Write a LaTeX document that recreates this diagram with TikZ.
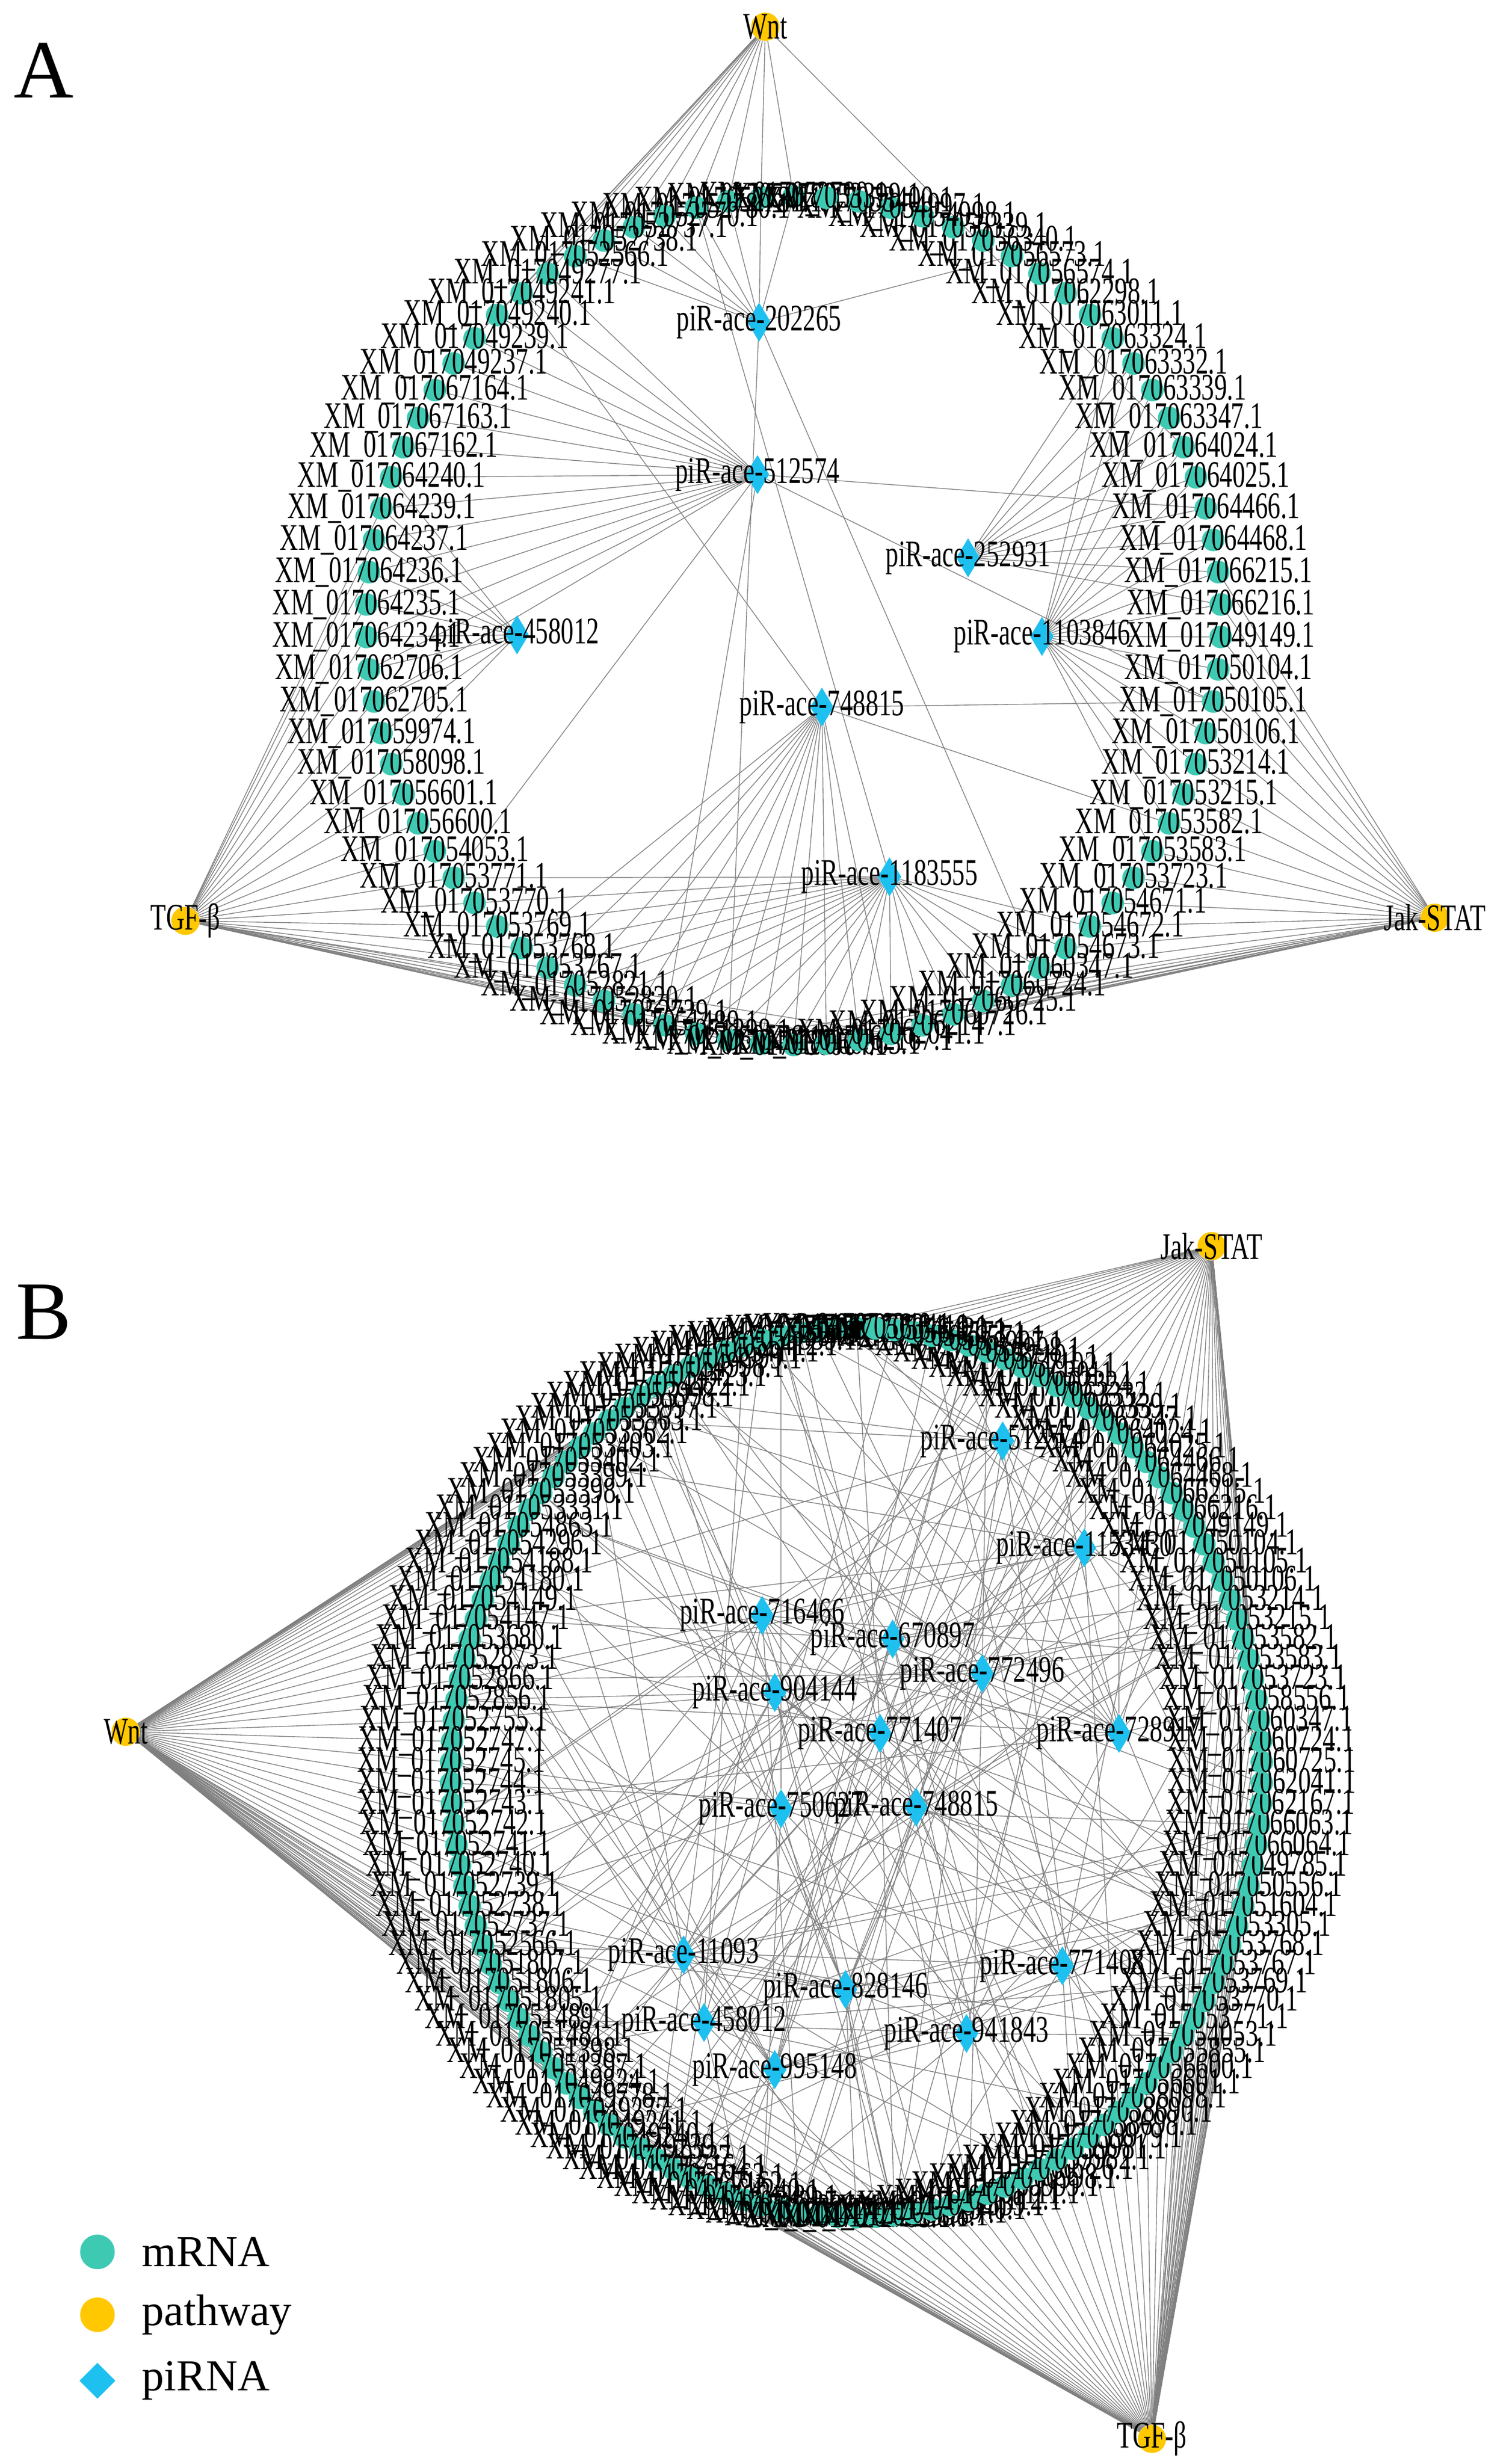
\documentclass[tikz,border=0pt]{standalone}
\usepackage{fontspec}
\setmainfont{Liberation Serif}
\newfontfamily\condfont[FakeStretch=0.68]{Liberation Serif}
\usetikzlibrary{shapes.geometric,backgrounds}
\definecolor{mrnacol}{HTML}{3EC9B2}
\definecolor{pathcol}{HTML}{FFC800}
\definecolor{pircol}{HTML}{1EC0F0}
\tikzset{
  mrna/.style={circle,fill=mrnacol,minimum size=0.72cm,inner sep=0pt},
  path node/.style={circle,fill=pathcol,minimum size=0.9cm,inner sep=0pt},
  pirna/.style={diamond,fill=pircol,minimum width=0.75cm,minimum height=1.25cm,inner sep=0pt},
  lbl/.style={font=\condfont\fontsize{34}{34}\selectfont,inner sep=0pt},
  edge/.style={draw=black!50,line width=0.7pt},
  legend text/.style={font=\fontsize{40}{40}\selectfont,anchor=west}
}
\begin{document}
\begin{tikzpicture}[x=0.05cm,y=-0.05cm]
  \useasboundingbox (0,0) rectangle (960,1568);

  % panel A: mRNA ring
  \foreach \n [count=\i] in {52790,52789,52781,52780,52770,52737,52738,52566,49277,49241,
      49240,49239,49237,67164,67163,67162,64240,64239,64237,64236,64235,64234,62706,62705,
      59974,58098,56601,56600,54053,53771,53770,53769,53768,53767,52821,52820,52729,51489,
      51398,50556,49785,66064,66063,62167,62041,62147,60726,60725,60724,60347,54673,54672,
      54671,53723,53583,53582,53215,53214,50106,50105,50104,49149,66216,66215,64468,64466,
      64025,64024,63347,63339,63332,63324,63011,62298,56574,56573,56340,56339,54998,54997,
      53400,53399}{
    \pgfmathsetmacro\ang{90+(\i-1)*(360/82)}
    \node[mrna,label={[lbl]center:XM\_0170\n.1}] (a\i) at ({505+272*cos(\ang)},{395-270*sin(\ang)}) {};
  }

  % panel A: pathways and piRNAs
  \node[path node,label={[lbl]center:Wnt}] (wa) at (487,17) {};
  \node[path node,label={[lbl]center:TGF-β}] (ta) at (118,586) {};
  \node[path node,label={[lbl]center:Jak-STAT}] (ja) at (913,584) {};
  \node[pirna,label={[lbl]center:piR-ace-202265}] (pa1) at (483,205) {};
  \node[pirna,label={[lbl]center:piR-ace-512574}] (pa2) at (482,302) {};
  \node[pirna,label={[lbl]center:piR-ace-252931}] (pa3) at (616,355) {};
  \node[pirna,label={[lbl]center:piR-ace-1103846}] (pa4) at (663,405) {};
  \node[pirna,label={[lbl]center:piR-ace-458012}] (pa5) at (329,404) {};
  \node[pirna,label={[lbl]center:piR-ace-748815}] (pa6) at (523,450) {};
  \node[pirna,label={[lbl]center:piR-ace-1183555}] (pa7) at (566,558) {};

  \begin{pgfonlayer}{background}
    \foreach \i in {1,...,12,68,...,82} \draw[edge] (wa) -- (a\i);
    \foreach \i in {18,...,45} \draw[edge] (ta) -- (a\i);
    \foreach \i in {40,...,64} \draw[edge] (ja) -- (a\i);
    \foreach \i in {1,...,8,76,...,82,40,50} \draw[edge] (pa1) -- (a\i);
    \foreach \i in {9,...,24,30,38,60,66} \draw[edge] (pa2) -- (a\i);
    \foreach \i in {63,...,72} \draw[edge] (pa3) -- (a\i);
    \foreach \i in {55,...,72} \draw[edge] (pa4) -- (a\i);
    \foreach \i in {17,...,26} \draw[edge] (pa5) -- (a\i);
    \foreach \i in {33,...,45,56,60,10} \draw[edge] (pa6) -- (a\i);
    \foreach \i in {30,...,52,4} \draw[edge] (pa7) -- (a\i);
  \end{pgfonlayer}

  % panel B: mRNA ring
  \foreach \n [count=\i] in {56340,56339,55998,55997,55540,55539,55412,55411,54999,54998,
      54423,54422,53998,53997,53563,53562,53403,53402,53399,53398,53331,54863,54296,54188,
      54180,54149,54147,53680,52873,52866,52856,52755,52747,52745,52744,52743,52742,52741,
      52740,52739,52738,52737,52566,51807,51806,51805,51489,51481,51398,51397,49824,49778,
      49277,49241,49240,49239,49237,67164,67163,67162,64240,64239,64237,64236,64235,64234,
      62706,62705,62298,61998,61997,61540,61539,61112,61111,60999,60998,60726,59982,59981,
      59979,58698,58690,58098,56601,56600,55855,54053,53771,53770,53769,53767,53768,53305,
      51604,50556,49785,66064,66063,62167,62041,60725,60724,60347,58556,53723,53583,53582,
      53215,53214,50106,50105,50104,49149,66216,66215,64468,64466,64025,64024,63347,63339,
      63332,63324,63011,57102,57101,56998,56997,56574,56573,56420,56419,56341}{
    \pgfmathsetmacro\ang{90+(\i-1)*(360/134)}
    \node[mrna,label={[lbl]center:XM\_0170\n.1}] (b\i) at ({545+258*cos(\ang)},{1128-283*sin(\ang)}) {};
  }

  % panel B: pathways and piRNAs
  \node[path node,label={[lbl]center:Wnt}] (wb) at (80,1102) {};
  \node[path node,label={[lbl]center:Jak-STAT}] (jb) at (771,793) {};
  \node[path node,label={[lbl]center:TGF-β}] (tb) at (733,1552) {};
  \foreach \nm/\x/\y [count=\k] in {512574/638/917,1153430/690/985,716466/485/1028,
      670897/568/1043,772496/625/1065,904144/493/1077,771407/560/1103,728917/712/1103,
      750627/497/1151,748815/583/1150,11093/435/1244,828146/538/1266,771408/676/1251,
      458012/448/1287,941843/615/1294,995148/493/1317}
    \node[pirna,label={[lbl]center:piR-ace-\nm}] (pb\k) at (\x,\y) {};

  \begin{pgfonlayer}{background}
    \foreach \i in {8,...,72} \draw[edge] (wb) -- (b\i);
    \foreach \i in {100,...,134,1,...,8} \draw[edge] (jb) -- (b\i);
    \foreach \i in {52,...,112} \draw[edge] (tb) -- (b\i);
    \foreach \s/\d [count=\k] in {3/11,17/13,29/7,41/17,55/9,70/19,88/23,104/5,
        11/29,63/15,97/31,120/27,5/37,77/21,46/25,130/33} {
      \foreach \j in {0,...,13} {
        \pgfmathtruncatemacro\t{mod(\s+\j*\d,134)+1}
        \draw[edge] (pb\k) -- (b\t);
      }
    }
  \end{pgfonlayer}

  % legend and panel letters
  \node[mrna,minimum size=1.1cm] (lm) at (62,1433) {};
  \node[legend text] at (88,1433) {mRNA};
  \node[path node,minimum size=1.1cm] (lp) at (62,1473) {};
  \node[legend text] at (88,1473) {pathway};
  \node[pirna,minimum width=1.15cm,minimum height=1.15cm] (lr) at (62,1515) {};
  \node[legend text] at (88,1515) {piRNA};
  \node[font=\fontsize{75}{75}\selectfont] at (28,45) {A};
  \node[font=\fontsize{75}{75}\selectfont] at (28,835) {B};
\end{tikzpicture}
\end{document}
